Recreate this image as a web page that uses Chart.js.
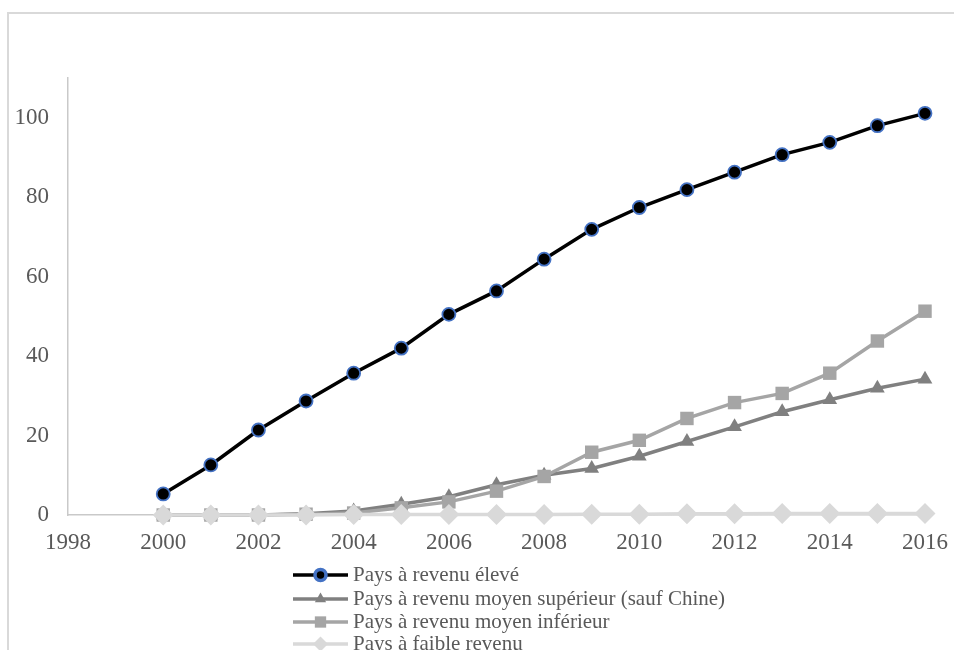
<!DOCTYPE html>
<html lang="fr">
<head>
<meta charset="utf-8">
<title>Pays par niveau de revenu, 2000–2016</title>
<script src="https://cdn.jsdelivr.net/npm/chart.js@4/dist/chart.umd.min.js"></script>
<style>
  html, body { margin: 0; padding: 0; background: #ffffff; }
  #wrap { width: 954px; height: 650px; }
</style>
</head>
<body>
<div id="wrap"><canvas id="chart" width="954" height="650"></canvas></div>
<script>
// Years on the horizontal axis
const years = [2000, 2001, 2002, 2003, 2004, 2005, 2006, 2007, 2008,
               2009, 2010, 2011, 2012, 2013, 2014, 2015, 2016];

// Series values, one per year
const highIncome = [5.3, 12.6, 21.4, 28.7, 35.7, 42.0, 50.5, 56.4, 64.4,
                    71.9, 77.4, 81.9, 86.3, 90.7, 93.8, 98.0, 101.1];
const upperMiddleExChina = [0, 0, 0, 0.3, 1.0, 2.7, 4.6, 7.6, 10.0,
                            11.7, 14.8, 18.5, 22.2, 26.0, 29.0, 31.9, 34.2];
const lowerMiddle = [0, 0, 0, 0.2, 0.5, 1.8, 3.3, 6.0, 9.7,
                     15.8, 18.8, 24.3, 28.3, 30.6, 35.7, 43.8, 51.3];
const lowIncome = [0, 0, 0, 0, 0.1, 0.1, 0.1, 0.1, 0.1,
                   0.2, 0.2, 0.3, 0.3, 0.4, 0.4, 0.4, 0.4];

// Series names
const seriesNames = [
  'Pays à revenu élevé',
  'Pays à revenu moyen supérieur (sauf Chine)',
  'Pays à revenu moyen inférieur',
  'Pays à faible revenu'
];

// Axis ticks
const xTickValues = [1998, 2000, 2002, 2004, 2006, 2008, 2010, 2012, 2014, 2016];
const yTickValues = [0, 20, 40, 60, 80, 100];

const FONT = '"Liberation Serif", "Times New Roman", serif';
const TEXT = '#595959';
const AXIS = '#c9c9c9';

const toPoints = vals => years.map((yr, i) => ({ x: yr, y: vals[i] }));

// Outer frame of the figure
const framePlugin = {
  id: 'frame',
  beforeDraw(chart) {
    const ctx = chart.ctx;
    ctx.save();
    ctx.strokeStyle = '#d9d9d9';
    ctx.lineWidth = 2;
    ctx.beginPath();
    ctx.moveTo(8, chart.height + 5);
    ctx.lineTo(8, 13);
    ctx.lineTo(chart.width + 5, 13);
    ctx.stroke();
    ctx.restore();
  }
};

// Vertical legend below the x axis
const legendPlugin = {
  id: 'stackedLegend',
  afterDraw(chart) {
    const ctx = chart.ctx;
    const x0 = 293, x1 = 348, textX = 353;
    const rowY = [575, 599, 622, 644];
    ctx.save();
    chart.data.datasets.forEach((ds, i) => {
      const y = rowY[i];
      ctx.strokeStyle = ds.borderColor;
      ctx.lineWidth = ds.borderWidth;
      ctx.beginPath();
      ctx.moveTo(x0, y);
      ctx.lineTo(x1, y);
      ctx.stroke();
      ctx.fillStyle = ds.pointBackgroundColor;
      ctx.strokeStyle = ds.pointBorderColor;
      Chart.helpers.drawPoint(ctx, {
        pointStyle: ds.pointStyle,
        radius: ds.legendRadius,
        borderWidth: ds.pointBorderWidth,
        rotation: 0
      }, (x0 + x1) / 2, y);
      ctx.fillStyle = TEXT;
      ctx.font = '21px ' + FONT;
      ctx.textBaseline = 'middle';
      ctx.textAlign = 'left';
      ctx.fillText(ds.label, textX, y);
    });
    ctx.restore();
  }
};

new Chart(document.getElementById('chart'), {
  type: 'line',
  data: {
    datasets: [
      {
        label: seriesNames[0],
        data: toPoints(highIncome),
        borderColor: '#000000',
        borderWidth: 3.5,
        pointStyle: 'circle',
        pointRadius: 6.5,
        legendRadius: 5.5,
        pointBackgroundColor: '#000000',
        pointBorderColor: '#4472c4',
        pointBorderWidth: 1.8,
        clip: false,
        order: 4
      },
      {
        label: seriesNames[1],
        data: toPoints(upperMiddleExChina),
        borderColor: '#808080',
        borderWidth: 3.5,
        pointStyle: 'triangle',
        pointRadius: 8.5,
        legendRadius: 6.5,
        pointBackgroundColor: '#808080',
        pointBorderColor: '#808080',
        pointBorderWidth: 0,
        clip: false,
        order: 3
      },
      {
        label: seriesNames[2],
        data: toPoints(lowerMiddle),
        borderColor: '#a5a5a5',
        borderWidth: 3.5,
        pointStyle: 'rect',
        pointRadius: 9.5,
        legendRadius: 8,
        pointBackgroundColor: '#a5a5a5',
        pointBorderColor: '#a5a5a5',
        pointBorderWidth: 0,
        clip: false,
        order: 2
      },
      {
        label: seriesNames[3],
        data: toPoints(lowIncome),
        borderColor: '#d9d9d9',
        borderWidth: 3.5,
        pointStyle: 'rectRot',
        pointRadius: 10.5,
        legendRadius: 7.5,
        pointBackgroundColor: '#d9d9d9',
        pointBorderColor: '#d9d9d9',
        pointBorderWidth: 0,
        clip: false,
        order: 1
      }
    ]
  },
  options: {
    responsive: false,
    devicePixelRatio: 1,
    animation: false,
    layout: { autoPadding: false, padding: { left: 8, right: 29, top: 78, bottom: 0 } },
    plugins: {
      legend: { display: false },
      tooltip: { enabled: false }
    },
    elements: { line: { tension: 0 } },
    scales: {
      x: {
        type: 'linear',
        min: 1998,
        max: 2016,
        afterBuildTicks(scale) {
          scale.ticks = xTickValues.map(v => ({ value: v }));
        },
        afterFit(scale) {
          scale.height = 135;
          scale.paddingLeft = 0;
          scale.paddingRight = 0;
        },
        grid: { display: false, drawTicks: false },
        border: { display: true, color: AXIS, width: 1.5 },
        ticks: {
          color: TEXT,
          font: { family: FONT, size: 23 },
          padding: 14,
          maxRotation: 0,
          autoSkip: false,
          callback: v => String(v)
        }
      },
      y: {
        min: 0,
        max: 110,
        afterBuildTicks(scale) {
          scale.ticks = yTickValues.map(v => ({ value: v }));
        },
        afterFit(scale) {
          scale.width = 60;
          scale.paddingTop = 0;
          scale.paddingBottom = 0;
        },
        grid: { display: false, drawTicks: false },
        border: { display: true, color: AXIS, width: 1.5 },
        ticks: {
          color: TEXT,
          font: { family: FONT, size: 23 },
          padding: 19
        }
      }
    }
  },
  plugins: [framePlugin, legendPlugin]
});
</script>
</body>
</html>
